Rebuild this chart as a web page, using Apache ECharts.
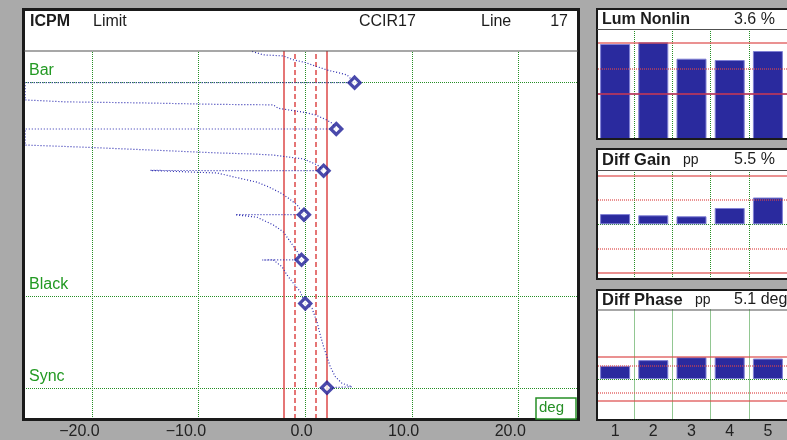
<!DOCTYPE html>
<html><head><meta charset="utf-8">
<script src="https://cdn.jsdelivr.net/npm/echarts@6/dist/echarts.min.js"></script>
<style>html,body{margin:0;padding:0;background:#aaaaaa;}#c{width:787px;height:440px;}</style>
</head><body><div id="c"></div>
<script>
// ---------- data ----------
const xTicks = [-20, -10, 0, 10, 20];
const levelNames = ['Bar', 'Black', 'Sync'];
const levelValues = [100, 0, -43];
const limitSolid = [-2, 2];
const limitDashed = [-1, 1];
const markerX = [4.63, 2.91, 1.72, -0.12, -0.35, 0, 2.04];
const markerY = [100, 78.3, 58.8, 38.2, 17.1, -3.3, -42.8];
const traceX = [-4.98, -3.94, -2.07, -1.13, 0, 0.94, 2.04, 2.98, 3.92, 4.63,
  -26.29, -26.29, -22.5, -15.2, -7.79, -3.0, -2.54, -1.13, 0, 0.94, 2.04, 2.51, 2.91,
  -26.29, -26.29, -21.3, -14.7, -8.17, -4.88, -3.0, -0.19, 1.13, 1.72,
  -14.55, -8.26, -6.38, -4.51, -3.47, -2.35, -1.6, -0.75, -0.12,
  -6.57, -6.1, -4.51, -3.0, -2.07, -1.41, -0.75, -0.35,
  -4.04, -3.0, -2.19, -1.72, -1.1, -0.47, -0.16, 0,
  0.63, 1.1, 1.41, 1.72, 2.04, 2.35, 2.82, 3.45, 4.39, 2.04];
const traceY = [114.6, 113.0, 112.5, 110.7, 109.4, 107.8, 105.9, 104.8, 103.6, 100,
  100, 91.9, 91.0, 90.5, 89.8, 89.6, 88.0, 86.9, 86.0, 84.9, 82.5, 81.0, 78.3,
  78.3, 70.8, 69.9, 68.5, 67.1, 66.6, 66.1, 64.3, 61.5, 58.8,
  58.9, 57.7, 55.5, 53.4, 51.3, 48.5, 46.0, 42.7, 38.2,
  38.2, 37.9, 37.0, 33.4, 30.2, 25.6, 20.9, 17.1,
  17.0, 17.0, 13.9, 10.0, 6.1, 2.2, -1.7, -3.3,
  -5.6, -11.9, -18.1, -23.6, -28.3, -33.0, -37.6, -40.7, -42.3, -42.8];
const steps = ['1', '2', '3', '4', '5'];
const lumNonlin = [99.75, 100.08, 96.88, 96.62, 98.38];
const lumUpper = [100];
const lumLower = [90];
const lumDotted = [95];
const diffGain = [2.1, 1.85, 1.65, 3.35, 5.5];
const gainSolid = [10, -10];
const gainDotted = [5, -5];
const diffPhase = [3.0, 4.3, 4.95, 4.95, 4.65];
const phaseSolid = [5, -5];
const phaseDotted = [3, -3];

// ---------- style ----------
const FONT = '"Liberation Sans", Arial, sans-serif';
const GREEN = '#268f26';
const RED = '#dd4848';
const BLUE = '#2a2a9e';
const TXT = '#1c1c1c';
const X_MIN = -26.4, X_MAX = 25.6, LABEL_SHIFT = 0.7;

const chart = echarts.init(document.getElementById('c'), null, {renderer: 'canvas'});

function fmt(v) { return (v < 0 ? '\u2212' : '') + Math.abs(v).toFixed(1); }

function redLines(solid, dotted, opacity) {
  return [
    ...solid.map(v => ({yAxis: v, lineStyle: {color: RED, width: 1.5, type: 'solid', opacity: opacity}})),
    ...dotted.map(v => ({yAxis: v, lineStyle: {color: RED, width: 1.5, type: [1, 1], opacity: opacity}}))
  ];
}

function text(t, x, y, size, bold, align, color) {
  return {type: 'text', z: 20, x: x, y: y, silent: true,
    style: {text: t, fill: color || TXT, font: (bold ? 'bold ' : '') + size + 'px ' + FONT,
      align: align || 'left', verticalAlign: 'middle', textAlign: align || 'left', textVerticalAlign: 'middle'}};
}
function bg(x, y, w, h) { return {type: 'rect', z: -10, silent: true, shape: {x, y, width: w, height: h}, style: {fill: '#ffffff'}}; }
function border(x, y, w, h, lw) { return {type: 'rect', z: 15, silent: true, shape: {x, y, width: w, height: h}, style: {fill: 'none', stroke: '#1a1a1a', lineWidth: lw}}; }
function hline(x1, x2, y) { return {type: 'line', z: 15, silent: true, shape: {x1, y1: y, x2, y2: y}, style: {stroke: '#505050', lineWidth: 1.2}}; }

const rightGrid = (top, h) => ({left: 596, top: top, width: 197, height: h});
const greenDot = {color: GREEN, width: 1, type: [1, 1]};

const option = {
  backgroundColor: '#aaaaaa',
  animation: false,
  graphic: {elements: [
    bg(22, 8, 558, 413),
    bg(596, 8, 200, 131), bg(596, 148, 200, 131), bg(596, 289, 200, 131),
    border(23.5, 9.5, 555, 410, 3),
    hline(24, 578, 51),
    border(597, 9, 200, 130, 2), hline(597, 787, 29.5),
    border(597, 149, 200, 130, 2), hline(597, 787, 170.5),
    border(597, 290, 200, 130, 2), hline(597, 787, 310),
    text('ICPM', 30, 21.5, 16, true),
    text('Limit', 93, 21.5, 16, false),
    text('CCIR17', 359, 21.5, 16, false),
    text('Line', 481, 21.5, 16, false),
    text('17', 568, 21.5, 16, false, 'right'),
    text('Lum Nonlin', 602, 20, 16, true),
    text('3.6 %', 734, 20, 16, false),
    text('Diff Gain', 602, 160, 16.5, true),
    text('pp', 683, 160.5, 14, false),
    text('5.5 %', 734, 160, 16, false),
    text('Diff Phase', 602, 300, 16.5, true),
    text('pp', 695, 300.5, 14, false),
    text('5.1 deg', 734, 300, 16, false),
    {type: 'rect', z: 16, silent: true, shape: {x: 536, y: 398, width: 40, height: 21}, style: {fill: '#ffffff', stroke: GREEN, lineWidth: 1.5}},
    text('deg', 539, 408, 15, false, 'left', GREEN)
  ]},
  grid: [
    {left: 24, top: 51, width: 554, height: 368},
    rightGrid(29, 110),
    rightGrid(170, 109),
    rightGrid(309.5, 110.5)
  ],
  xAxis: [
    {gridIndex: 0, type: 'value', position: 'bottom', min: X_MIN, max: X_MAX, show: false},
    {gridIndex: 0, type: 'value', position: 'bottom', offset: 0, min: X_MIN - LABEL_SHIFT, max: X_MAX - LABEL_SHIFT,
      axisLine: {show: false}, axisTick: {show: false}, splitLine: {show: false},
      axisLabel: {customValues: xTicks, formatter: fmt, align: 'right', margin: 5,
        color: '#222', fontSize: 16, fontFamily: FONT}},
    {gridIndex: 1, type: 'category', data: steps, boundaryGap: true, axisLine: {show: false}, axisTick: {show: false},
      axisLabel: {show: false}, splitLine: {show: true, interval: 0, lineStyle: greenDot}},
    {gridIndex: 2, type: 'category', data: steps, boundaryGap: true, axisLine: {show: false}, axisTick: {show: false},
      axisLabel: {show: false}, splitLine: {show: true, interval: 0, lineStyle: greenDot}},
    {gridIndex: 3, type: 'category', data: steps, boundaryGap: true, axisLine: {show: false}, axisTick: {show: false},
      axisLabel: {show: true, interval: 0, margin: 5, color: '#222', fontSize: 16, fontFamily: FONT},
      splitLine: {show: true, interval: 0, lineStyle: greenDot}}
  ],
  yAxis: [
    {gridIndex: 0, type: 'value', min: -57.4, max: 114.8, show: false},
    {gridIndex: 1, type: 'value', min: 81.19, max: 102.68, show: false},
    {gridIndex: 2, type: 'value', min: -11.23, max: 11.15, show: false},
    {gridIndex: 3, type: 'value', min: -9.06, max: 15.78, show: false}
  ],
  series: [
    {
      type: 'line', xAxisIndex: 0, yAxisIndex: 0, z: 3,
      data: traceX.map((x, i) => [x, traceY[i]]),
      symbol: 'none', silent: true, clip: true,
      lineStyle: {color: '#2c2cb0', width: 1.2, type: [1, 2]},
      markLine: {
        z: 1, silent: true, symbol: ['none', 'none'], animation: false,
        data: [
          ...xTicks.map(v => ({xAxis: v, label: {show: false}, lineStyle: greenDot})),
          ...levelValues.map((v, i) => ({yAxis: v, name: levelNames[i],
            lineStyle: greenDot,
            label: {show: true, position: 'insideStartTop', formatter: levelNames[i], color: '#229922',
              fontSize: 16, fontFamily: FONT, distance: [5, 4]}})),
          ...limitSolid.map(v => ({xAxis: v, label: {show: false}, lineStyle: {color: RED, width: 1.5, type: 'solid'}})),
          ...limitDashed.map(v => ({xAxis: v, label: {show: false}, lineStyle: {color: RED, width: 1.5, type: [5, 3]}}))
        ]
      }
    },
    {
      type: 'scatter', xAxisIndex: 0, yAxisIndex: 0, z: 4, silent: true,
      data: markerX.map((x, i) => [x, markerY[i]]),
      symbol: 'diamond', symbolSize: 11,
      itemStyle: {color: '#ffffff', borderColor: '#1c1c96', borderWidth: 3.2}
    },
    {
      type: 'bar', xAxisIndex: 2, yAxisIndex: 1, data: lumNonlin, barWidth: 30, silent: true,
      itemStyle: {color: BLUE, borderColor: '#8080d4', borderWidth: 1},
      markLine: {z: 5, silent: true, symbol: ['none', 'none'], label: {show: false},
        data: [
          ...redLines(lumUpper, lumDotted, 0.8),
          ...lumLower.map(v => ({yAxis: v, lineStyle: {color: '#b8365a', width: 2.2, type: 'solid', opacity: 0.85}}))
        ]}
    },
    {
      type: 'line', xAxisIndex: 3, yAxisIndex: 2, data: [], silent: true,
      markLine: {z: 1, silent: true, symbol: ['none', 'none'], label: {show: false},
        data: [{yAxis: 0, lineStyle: greenDot}]}
    },
    {
      type: 'bar', xAxisIndex: 3, yAxisIndex: 2, data: diffGain, barWidth: 30, silent: true,
      itemStyle: {color: BLUE, borderColor: '#8080d4', borderWidth: 1},
      markLine: {z: 5, silent: true, symbol: ['none', 'none'], label: {show: false}, data: redLines(gainSolid, gainDotted, 0.8)}
    },
    {
      type: 'line', xAxisIndex: 4, yAxisIndex: 3, data: [], silent: true,
      markLine: {z: 1, silent: true, symbol: ['none', 'none'], label: {show: false},
        data: [{yAxis: 0, lineStyle: greenDot}]}
    },
    {
      type: 'bar', xAxisIndex: 4, yAxisIndex: 3, data: diffPhase, barWidth: 30, silent: true,
      itemStyle: {color: BLUE, borderColor: '#8080d4', borderWidth: 1},
      markLine: {z: 5, silent: true, symbol: ['none', 'none'], label: {show: false}, data: redLines(phaseSolid, phaseDotted, 0.8)}
    }
  ]
};
chart.setOption(option);
</script></body></html>
